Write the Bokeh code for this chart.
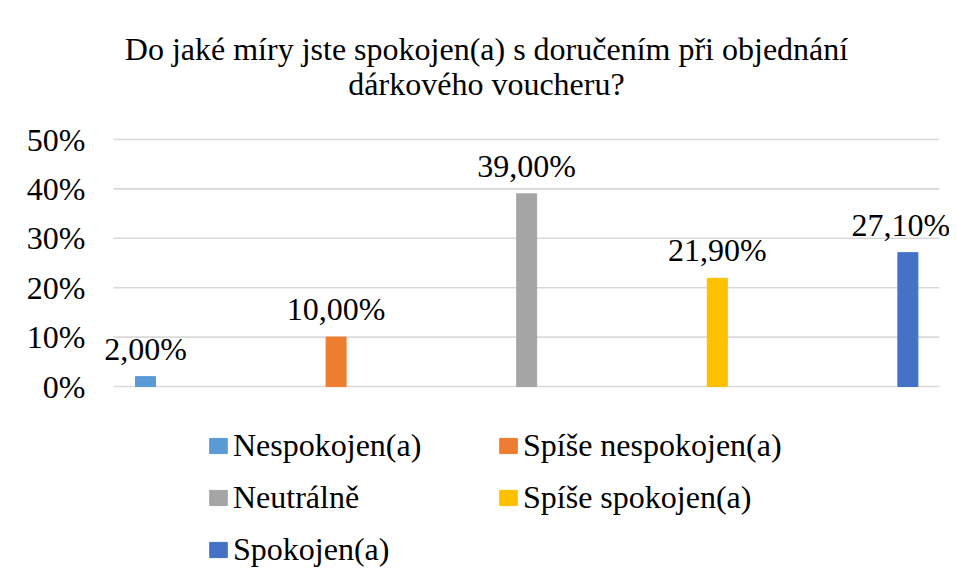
from bokeh.plotting import figure
from bokeh.models import (Range1d, FixedTicker, NumeralTickFormatter, ColumnDataSource,
                          LabelSet, Label)
from bokeh.embed import file_html
from bokeh.resources import INLINE

categories = ["Nespokojen(a)", "Spíše nespokojen(a)", "Neutrálně", "Spíše spokojen(a)", "Spokojen(a)"]
values = [0.02, 0.10, 0.39, 0.219, 0.271]
value_labels = ["2,00%", "10,00%", "39,00%", "21,90%", "27,10%"]
colors = ["#5B9BD5", "#ED7D31", "#A5A5A5", "#FFC000", "#4472C4"]
y_ticks = [0, 0.1, 0.2, 0.3, 0.4, 0.5]
title_lines = ["Do jaké míry jste spokojen(a) s doručením při objednání", "dárkového voucheru?"]

FONT = "Liberation Serif"
FS = "32px"
# layout (plot-area extent of the gridlines, in x data units)
GRID_X0, GRID_X1 = -0.168, 4.165
# small horizontal nudge (px) so the last value label stays inside the canvas
LABEL_NUDGE = [0, 0, 0, 0, -7]

src = ColumnDataSource(dict(
    x=list(range(len(categories))),
    top=values,
    label=categories,
    txt=value_labels,
    color=colors,
    dx=LABEL_NUDGE,
))

p = figure(width=949, height=573, output_backend="svg", toolbar_location=None,
           x_range=Range1d(-0.2361, 4.2183), y_range=Range1d(-0.3785, 0.7814),
           x_axis_location=None,
           min_border_left=100, min_border_right=0, min_border_top=0, min_border_bottom=0)
p.outline_line_color = None
p.background_fill_color = "white"
p.border_fill_color = "white"
p.xgrid.visible = False
p.ygrid.visible = False

# horizontal gridlines across the plot area
p.segment(x0=[GRID_X0] * len(y_ticks), x1=[GRID_X1] * len(y_ticks), y0=y_ticks, y1=y_ticks,
          line_color="#d9d9d9", line_width=1.6)

p.vbar(x="x", top="top", width=0.105, bottom=0, color="color", source=src, legend_field="label")

# y axis
p.yaxis.ticker = FixedTicker(ticks=y_ticks)
p.yaxis.formatter = NumeralTickFormatter(format="0%")
p.yaxis.axis_line_color = None
p.yaxis.major_tick_line_color = None
p.yaxis.minor_tick_line_color = None
p.yaxis.major_tick_out = 0
p.yaxis.minor_tick_out = 0
p.yaxis.major_label_standoff = 15
p.yaxis.major_label_text_font = FONT
p.yaxis.major_label_text_font_size = FS
p.yaxis.major_label_text_color = "black"

# data labels
labels = LabelSet(x="x", y="top", text="txt", source=src, text_align="center",
                  text_baseline="alphabetic", y_offset=17, x_offset="dx", text_font=FONT,
                  text_font_size=FS, text_color="black")
p.add_layout(labels)

# title
for txt, yy in zip(title_lines, [525, 490]):
    p.add_layout(Label(x=386, y=yy, x_units="screen", y_units="screen", text=txt,
                       text_align="center", text_baseline="alphabetic", text_font=FONT,
                       text_font_size=FS, text_color="black"))

leg = p.legend[0]
leg.orientation = "horizontal"
leg.ncols = 2
leg.location = (107, 5)
leg.padding = 0
leg.margin = 0
leg.spacing = 15
leg.glyph_width = 22
leg.glyph_height = 19
leg.label_standoff = 4
leg.label_width = 249
leg.label_height = 36
leg.label_text_font = FONT
leg.label_text_font_size = FS
leg.label_text_color = "black"
leg.background_fill_alpha = 0
leg.border_line_color = None

open("out.html", "w").write(file_html(p, INLINE))
